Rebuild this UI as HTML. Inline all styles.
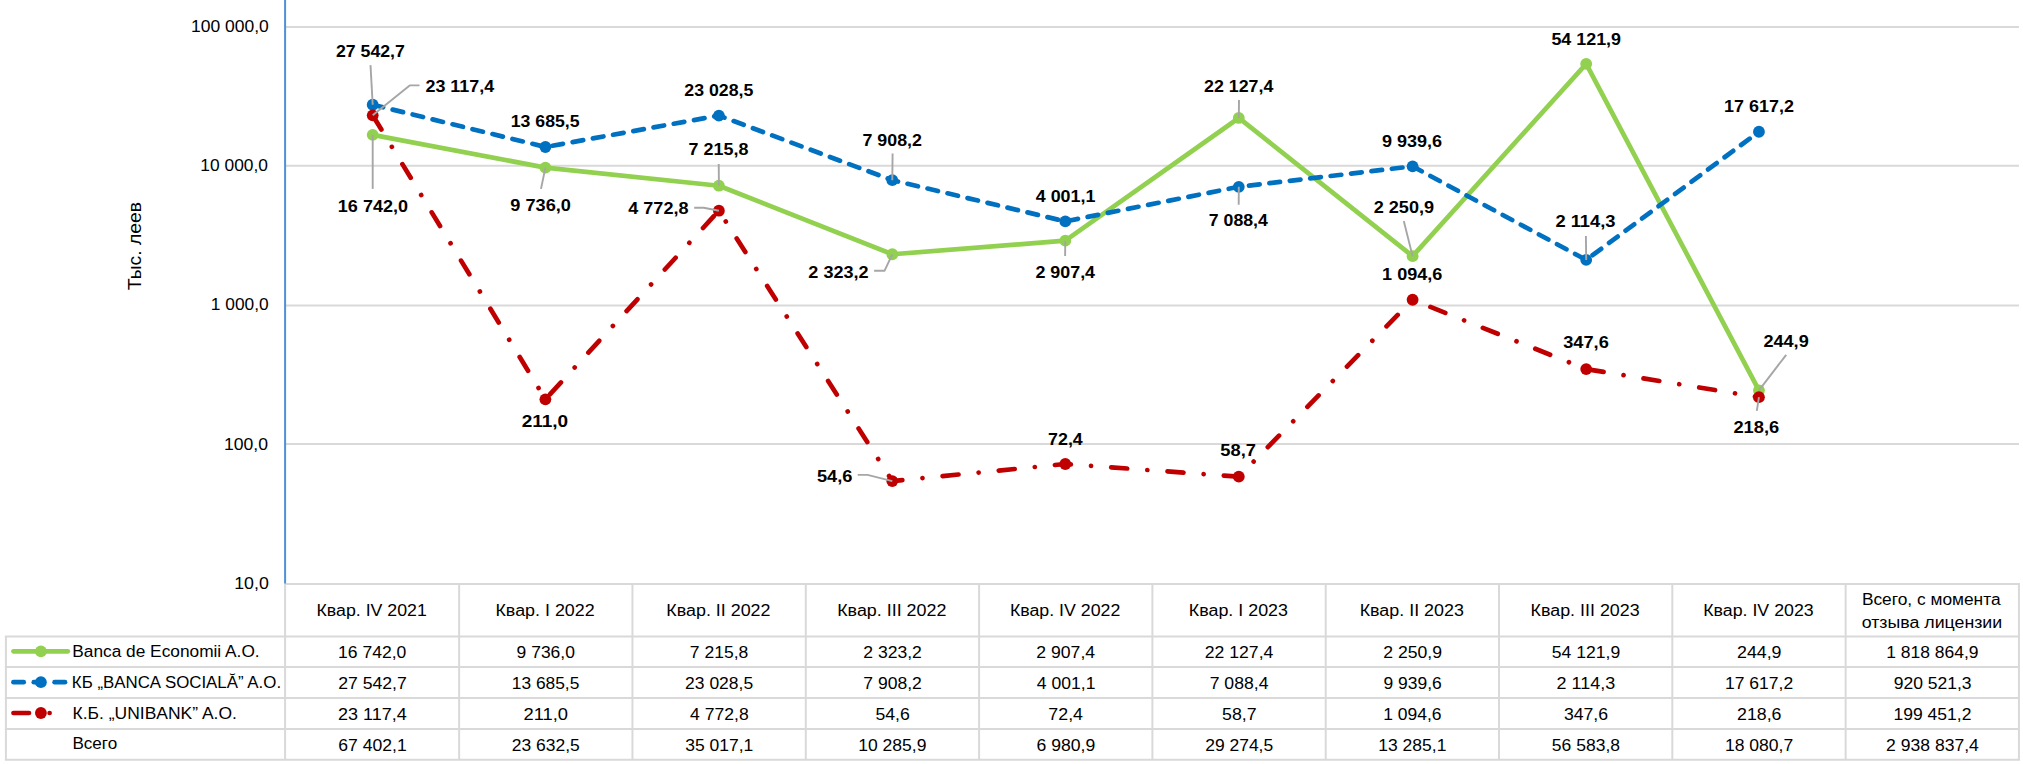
<!DOCTYPE html>
<html lang="ru"><head><meta charset="utf-8"><title>Chart</title>
<style>html,body{margin:0;padding:0;background:#fff}svg{display:block}text{font-family:"Liberation Sans",sans-serif;white-space:pre}</style></head><body>
<svg width="2023" height="764" viewBox="0 0 2023 764">
<rect width="2023" height="764" fill="#fff"/>
<g stroke="#D9D9D9" stroke-width="2" fill="none">
<line x1="285.1" y1="27.00" x2="2018.94" y2="27.00"/>
<line x1="285.1" y1="165.85" x2="2018.94" y2="165.85"/>
<line x1="285.1" y1="305.50" x2="2018.94" y2="305.50"/>
<line x1="285.1" y1="444.10" x2="2018.94" y2="444.10"/>
<line x1="284.1" y1="583.95" x2="2019.94" y2="583.95"/>
<line x1="4.9" y1="636.45" x2="2019.94" y2="636.45"/>
<line x1="4.9" y1="667.1" x2="2019.94" y2="667.1"/>
<line x1="4.9" y1="697.95" x2="2019.94" y2="697.95"/>
<line x1="4.9" y1="728.9" x2="2019.94" y2="728.9"/>
<line x1="4.9" y1="759.85" x2="2019.94" y2="759.85"/>
<line x1="285.10" y1="583.95" x2="285.10" y2="759.85"/>
<line x1="459.15" y1="583.95" x2="459.15" y2="759.85"/>
<line x1="632.46" y1="583.95" x2="632.46" y2="759.85"/>
<line x1="805.77" y1="583.95" x2="805.77" y2="759.85"/>
<line x1="979.08" y1="583.95" x2="979.08" y2="759.85"/>
<line x1="1152.39" y1="583.95" x2="1152.39" y2="759.85"/>
<line x1="1325.70" y1="583.95" x2="1325.70" y2="759.85"/>
<line x1="1499.01" y1="583.95" x2="1499.01" y2="759.85"/>
<line x1="1672.32" y1="583.95" x2="1672.32" y2="759.85"/>
<line x1="1845.63" y1="583.95" x2="1845.63" y2="759.85"/>
<line x1="2018.94" y1="583.95" x2="2018.94" y2="759.85"/>
<line x1="5.9" y1="636.45" x2="5.9" y2="759.85"/>
</g>
<line x1="285.1" y1="0" x2="285.1" y2="583.45" stroke="#4E92D3" stroke-width="2"/>
<text x="191.07" y="31.60" font-size="17.25" textLength="77.69" lengthAdjust="spacingAndGlyphs" fill="#000">100 000,0</text>
<text x="200.38" y="171.40" font-size="17.25" textLength="67.59" lengthAdjust="spacingAndGlyphs" fill="#000">10 000,0</text>
<text x="210.88" y="310.00" font-size="17.25" textLength="57.78" lengthAdjust="spacingAndGlyphs" fill="#000">1 000,0</text>
<text x="223.96" y="450.00" font-size="17.25" textLength="44.01" lengthAdjust="spacingAndGlyphs" fill="#000">100,0</text>
<text x="234.25" y="588.60" font-size="17.25" textLength="34.53" lengthAdjust="spacingAndGlyphs" fill="#000">10,0</text>
<text transform="translate(140.5,289.9) rotate(-90)" x="-0.43" y="0" font-size="18.60" textLength="88.36" lengthAdjust="spacingAndGlyphs" fill="#000">Тыс. леев</text>
<polyline points="372.70,134.83 545.40,167.61 718.90,185.72 892.30,254.25 1065.30,240.69 1238.80,117.96 1412.60,256.16 1586.20,63.87 1758.95,390.30" fill="none" stroke="#92D050" stroke-width="4.7" stroke-linejoin="round" stroke-linecap="round"/>
<polyline points="372.70,104.72 545.40,147.01 718.90,115.55 892.30,180.18 1065.30,221.38 1238.80,186.80 1412.60,166.35 1586.20,259.95 1758.95,131.74" fill="none" stroke="#0070C0" stroke-width="4.7" stroke-linejoin="round" stroke-linecap="round" stroke-dasharray="10.71 9.84"/>
<polyline points="372.70,115.31 545.40,399.31 718.90,210.71 892.30,481.06 1065.30,463.99 1238.80,476.68 1412.60,299.76 1586.20,369.12 1758.95,397.17" fill="none" stroke="#C00000" stroke-width="4.7" stroke-linejoin="round" stroke-linecap="round" stroke-dasharray="16.00 20.22 0.01 20.22" stroke-dashoffset="-0.7"/>
<g fill="#92D050"><circle cx="372.70" cy="134.83" r="5.9"/><circle cx="545.40" cy="167.61" r="5.9"/><circle cx="718.90" cy="185.72" r="5.9"/><circle cx="892.30" cy="254.25" r="5.9"/><circle cx="1065.30" cy="240.69" r="5.9"/><circle cx="1238.80" cy="117.96" r="5.9"/><circle cx="1412.60" cy="256.16" r="5.9"/><circle cx="1586.20" cy="63.87" r="5.9"/><circle cx="1758.95" cy="390.30" r="5.9"/></g>
<g fill="#0070C0"><circle cx="372.70" cy="104.72" r="5.9"/><circle cx="545.40" cy="147.01" r="5.9"/><circle cx="718.90" cy="115.55" r="5.9"/><circle cx="892.30" cy="180.18" r="5.9"/><circle cx="1065.30" cy="221.38" r="5.9"/><circle cx="1238.80" cy="186.80" r="5.9"/><circle cx="1412.60" cy="166.35" r="5.9"/><circle cx="1586.20" cy="259.95" r="5.9"/><circle cx="1758.95" cy="131.74" r="5.9"/></g>
<g fill="#C00000"><circle cx="372.70" cy="115.31" r="5.9"/><circle cx="545.40" cy="399.31" r="5.9"/><circle cx="718.90" cy="210.71" r="5.9"/><circle cx="892.30" cy="481.06" r="5.9"/><circle cx="1065.30" cy="463.99" r="5.9"/><circle cx="1238.80" cy="476.68" r="5.9"/><circle cx="1412.60" cy="299.76" r="5.9"/><circle cx="1586.20" cy="369.12" r="5.9"/><circle cx="1758.95" cy="397.17" r="5.9"/></g>
<g stroke="#A6A6A6" stroke-width="1.9" fill="none" stroke-linejoin="round">
<polyline points="370.50,65.10 372.70,104.72"/>
<polyline points="419.50,85.40 409.70,85.40 372.70,115.31"/>
<polyline points="372.70,134.83 372.70,188.90"/>
<polyline points="545.40,167.61 541.00,188.90"/>
<polyline points="718.75,164.10 718.90,185.72"/>
<polyline points="892.60,153.50 892.30,180.18"/>
<polyline points="694.20,207.80 703.80,207.80 718.90,210.71"/>
<polyline points="874.10,270.70 884.60,270.70 892.30,254.25"/>
<polyline points="857.70,474.90 867.50,474.90 892.30,481.06"/>
<polyline points="1239.00,100.10 1238.80,117.96"/>
<polyline points="1065.30,240.69 1065.10,256.00"/>
<polyline points="1238.80,186.80 1238.70,204.80"/>
<polyline points="1403.80,221.10 1412.60,256.16"/>
<polyline points="1585.90,236.00 1586.20,259.95"/>
<polyline points="1786.20,354.80 1758.95,390.30"/>
<polyline points="1758.95,397.17 1756.80,410.90"/>
</g>
<text x="335.95" y="56.80" font-size="17.00" font-weight="bold" textLength="68.97" lengthAdjust="spacingAndGlyphs" fill="#000">27 542,7</text>
<text x="425.44" y="91.90" font-size="17.00" font-weight="bold" textLength="68.71" lengthAdjust="spacingAndGlyphs" fill="#000">23 117,4</text>
<text x="510.75" y="126.90" font-size="17.00" font-weight="bold" textLength="68.78" lengthAdjust="spacingAndGlyphs" fill="#000">13 685,5</text>
<text x="337.83" y="211.80" font-size="17.00" font-weight="bold" textLength="70.15" lengthAdjust="spacingAndGlyphs" fill="#000">16 742,0</text>
<text x="510.33" y="210.90" font-size="17.00" font-weight="bold" textLength="60.55" lengthAdjust="spacingAndGlyphs" fill="#000">9 736,0</text>
<text x="684.35" y="95.50" font-size="17.00" font-weight="bold" textLength="68.99" lengthAdjust="spacingAndGlyphs" fill="#000">23 028,5</text>
<text x="688.60" y="155.30" font-size="17.00" font-weight="bold" textLength="59.80" lengthAdjust="spacingAndGlyphs" fill="#000">7 215,8</text>
<text x="862.50" y="145.50" font-size="17.00" font-weight="bold" textLength="59.45" lengthAdjust="spacingAndGlyphs" fill="#000">7 908,2</text>
<text x="628.28" y="214.10" font-size="17.00" font-weight="bold" textLength="60.22" lengthAdjust="spacingAndGlyphs" fill="#000">4 772,8</text>
<text x="808.34" y="277.90" font-size="17.00" font-weight="bold" textLength="60.23" lengthAdjust="spacingAndGlyphs" fill="#000">2 323,2</text>
<text x="521.70" y="426.80" font-size="17.00" font-weight="bold" textLength="46.51" lengthAdjust="spacingAndGlyphs" fill="#000">211,0</text>
<text x="816.90" y="482.10" font-size="17.00" font-weight="bold" textLength="35.49" lengthAdjust="spacingAndGlyphs" fill="#000">54,6</text>
<text x="1204.04" y="91.90" font-size="17.00" font-weight="bold" textLength="69.30" lengthAdjust="spacingAndGlyphs" fill="#000">22 127,4</text>
<text x="1381.94" y="146.90" font-size="17.00" font-weight="bold" textLength="60.15" lengthAdjust="spacingAndGlyphs" fill="#000">9 939,6</text>
<text x="1035.78" y="201.50" font-size="17.00" font-weight="bold" textLength="59.66" lengthAdjust="spacingAndGlyphs" fill="#000">4 001,1</text>
<text x="1035.44" y="277.60" font-size="17.00" font-weight="bold" textLength="59.60" lengthAdjust="spacingAndGlyphs" fill="#000">2 907,4</text>
<text x="1208.81" y="226.20" font-size="17.00" font-weight="bold" textLength="59.04" lengthAdjust="spacingAndGlyphs" fill="#000">7 088,4</text>
<text x="1373.73" y="212.80" font-size="17.00" font-weight="bold" textLength="60.37" lengthAdjust="spacingAndGlyphs" fill="#000">2 250,9</text>
<text x="1382.13" y="279.80" font-size="17.00" font-weight="bold" textLength="60.26" lengthAdjust="spacingAndGlyphs" fill="#000">1 094,6</text>
<text x="1048.10" y="444.60" font-size="17.00" font-weight="bold" textLength="34.64" lengthAdjust="spacingAndGlyphs" fill="#000">72,4</text>
<text x="1220.30" y="456.30" font-size="17.00" font-weight="bold" textLength="35.64" lengthAdjust="spacingAndGlyphs" fill="#000">58,7</text>
<text x="1551.41" y="44.70" font-size="17.00" font-weight="bold" textLength="69.59" lengthAdjust="spacingAndGlyphs" fill="#000">54 121,9</text>
<text x="1724.14" y="112.20" font-size="17.00" font-weight="bold" textLength="69.82" lengthAdjust="spacingAndGlyphs" fill="#000">17 617,2</text>
<text x="1555.43" y="227.20" font-size="17.00" font-weight="bold" textLength="60.07" lengthAdjust="spacingAndGlyphs" fill="#000">2 114,3</text>
<text x="1563.25" y="348.20" font-size="17.00" font-weight="bold" textLength="45.55" lengthAdjust="spacingAndGlyphs" fill="#000">347,6</text>
<text x="1763.43" y="346.60" font-size="17.00" font-weight="bold" textLength="45.27" lengthAdjust="spacingAndGlyphs" fill="#000">244,9</text>
<text x="1733.43" y="433.00" font-size="17.00" font-weight="bold" textLength="45.77" lengthAdjust="spacingAndGlyphs" fill="#000">218,6</text>
<text x="316.54" y="615.80" font-size="17.25" textLength="110.32" lengthAdjust="spacingAndGlyphs" fill="#000">Квар. IV 2021</text>
<text x="495.46" y="615.80" font-size="17.25" textLength="99.21" lengthAdjust="spacingAndGlyphs" fill="#000">Квар. I 2022</text>
<text x="666.32" y="615.80" font-size="17.25" textLength="104.20" lengthAdjust="spacingAndGlyphs" fill="#000">Квар. II 2022</text>
<text x="837.18" y="615.80" font-size="17.25" textLength="109.18" lengthAdjust="spacingAndGlyphs" fill="#000">Квар. III 2022</text>
<text x="1009.91" y="615.80" font-size="17.25" textLength="110.41" lengthAdjust="spacingAndGlyphs" fill="#000">Квар. IV 2022</text>
<text x="1188.82" y="615.80" font-size="17.25" textLength="99.16" lengthAdjust="spacingAndGlyphs" fill="#000">Квар. I 2023</text>
<text x="1359.68" y="615.80" font-size="17.25" textLength="104.15" lengthAdjust="spacingAndGlyphs" fill="#000">Квар. II 2023</text>
<text x="1530.54" y="615.80" font-size="17.25" textLength="109.13" lengthAdjust="spacingAndGlyphs" fill="#000">Квар. III 2023</text>
<text x="1703.27" y="615.80" font-size="17.25" textLength="110.37" lengthAdjust="spacingAndGlyphs" fill="#000">Квар. IV 2023</text>
<text x="1861.88" y="604.75" font-size="17.25" textLength="138.71" lengthAdjust="spacingAndGlyphs" fill="#000">Всего, с момента</text>
<text x="1861.75" y="628.00" font-size="17.25" textLength="140.46" lengthAdjust="spacingAndGlyphs" fill="#000">отзыва лицензии</text>
<text x="338.05" y="657.90" font-size="17.25" textLength="68.24" lengthAdjust="spacingAndGlyphs" fill="#000">16 742,0</text>
<text x="516.64" y="657.90" font-size="17.25" textLength="58.29" lengthAdjust="spacingAndGlyphs" fill="#000">9 736,0</text>
<text x="689.88" y="657.90" font-size="17.25" textLength="58.51" lengthAdjust="spacingAndGlyphs" fill="#000">7 215,8</text>
<text x="863.24" y="657.90" font-size="17.25" textLength="58.64" lengthAdjust="spacingAndGlyphs" fill="#000">2 323,2</text>
<text x="1036.33" y="657.90" font-size="17.25" textLength="58.78" lengthAdjust="spacingAndGlyphs" fill="#000">2 907,4</text>
<text x="1204.75" y="657.90" font-size="17.25" textLength="68.64" lengthAdjust="spacingAndGlyphs" fill="#000">22 127,4</text>
<text x="1383.21" y="657.90" font-size="17.25" textLength="58.74" lengthAdjust="spacingAndGlyphs" fill="#000">2 250,9</text>
<text x="1551.81" y="657.90" font-size="17.25" textLength="68.41" lengthAdjust="spacingAndGlyphs" fill="#000">54 121,9</text>
<text x="1737.03" y="657.90" font-size="17.25" textLength="44.50" lengthAdjust="spacingAndGlyphs" fill="#000">244,9</text>
<text x="1886.23" y="657.90" font-size="17.25" textLength="92.33" lengthAdjust="spacingAndGlyphs" fill="#000">1 818 864,9</text>
<text x="338.15" y="688.80" font-size="17.25" textLength="68.70" lengthAdjust="spacingAndGlyphs" fill="#000">27 542,7</text>
<text x="511.74" y="688.80" font-size="17.25" textLength="67.63" lengthAdjust="spacingAndGlyphs" fill="#000">13 685,5</text>
<text x="685.13" y="688.80" font-size="17.25" textLength="68.00" lengthAdjust="spacingAndGlyphs" fill="#000">23 028,5</text>
<text x="863.25" y="688.80" font-size="17.25" textLength="58.59" lengthAdjust="spacingAndGlyphs" fill="#000">7 908,2</text>
<text x="1036.84" y="688.80" font-size="17.25" textLength="58.58" lengthAdjust="spacingAndGlyphs" fill="#000">4 001,1</text>
<text x="1209.69" y="688.80" font-size="17.25" textLength="58.74" lengthAdjust="spacingAndGlyphs" fill="#000">7 088,4</text>
<text x="1383.47" y="688.80" font-size="17.25" textLength="58.22" lengthAdjust="spacingAndGlyphs" fill="#000">9 939,6</text>
<text x="1556.58" y="688.80" font-size="17.25" textLength="58.62" lengthAdjust="spacingAndGlyphs" fill="#000">2 114,3</text>
<text x="1725.01" y="688.80" font-size="17.25" textLength="68.13" lengthAdjust="spacingAndGlyphs" fill="#000">17 617,2</text>
<text x="1893.69" y="688.80" font-size="17.25" textLength="77.86" lengthAdjust="spacingAndGlyphs" fill="#000">920 521,3</text>
<text x="337.98" y="719.75" font-size="17.25" textLength="68.67" lengthAdjust="spacingAndGlyphs" fill="#000">23 117,4</text>
<text x="523.47" y="719.75" font-size="17.25" textLength="44.54" lengthAdjust="spacingAndGlyphs" fill="#000">211,0</text>
<text x="690.10" y="719.75" font-size="17.25" textLength="58.58" lengthAdjust="spacingAndGlyphs" fill="#000">4 772,8</text>
<text x="875.40" y="719.75" font-size="17.25" textLength="34.36" lengthAdjust="spacingAndGlyphs" fill="#000">54,6</text>
<text x="1048.39" y="719.75" font-size="17.25" textLength="34.63" lengthAdjust="spacingAndGlyphs" fill="#000">72,4</text>
<text x="1222.08" y="719.75" font-size="17.25" textLength="34.53" lengthAdjust="spacingAndGlyphs" fill="#000">58,7</text>
<text x="1383.17" y="719.75" font-size="17.25" textLength="58.30" lengthAdjust="spacingAndGlyphs" fill="#000">1 094,6</text>
<text x="1563.91" y="719.75" font-size="17.25" textLength="44.17" lengthAdjust="spacingAndGlyphs" fill="#000">347,6</text>
<text x="1737.03" y="719.75" font-size="17.25" textLength="44.43" lengthAdjust="spacingAndGlyphs" fill="#000">218,6</text>
<text x="1893.43" y="719.75" font-size="17.25" textLength="77.98" lengthAdjust="spacingAndGlyphs" fill="#000">199 451,2</text>
<text x="338.28" y="750.70" font-size="17.25" textLength="68.41" lengthAdjust="spacingAndGlyphs" fill="#000">67 402,1</text>
<text x="511.78" y="750.70" font-size="17.25" textLength="68.00" lengthAdjust="spacingAndGlyphs" fill="#000">23 632,5</text>
<text x="685.22" y="750.70" font-size="17.25" textLength="68.15" lengthAdjust="spacingAndGlyphs" fill="#000">35 017,1</text>
<text x="858.18" y="750.70" font-size="17.25" textLength="68.24" lengthAdjust="spacingAndGlyphs" fill="#000">10 285,9</text>
<text x="1036.51" y="750.70" font-size="17.25" textLength="58.74" lengthAdjust="spacingAndGlyphs" fill="#000">6 980,9</text>
<text x="1205.18" y="750.70" font-size="17.25" textLength="68.00" lengthAdjust="spacingAndGlyphs" fill="#000">29 274,5</text>
<text x="1378.34" y="750.70" font-size="17.25" textLength="68.04" lengthAdjust="spacingAndGlyphs" fill="#000">13 285,1</text>
<text x="1551.87" y="750.70" font-size="17.25" textLength="68.22" lengthAdjust="spacingAndGlyphs" fill="#000">56 583,8</text>
<text x="1724.91" y="750.70" font-size="17.25" textLength="68.33" lengthAdjust="spacingAndGlyphs" fill="#000">18 080,7</text>
<text x="1886.09" y="750.70" font-size="17.25" textLength="92.74" lengthAdjust="spacingAndGlyphs" fill="#000">2 938 837,4</text>
<text x="72.28" y="656.50" font-size="17.25" textLength="187.38" lengthAdjust="spacingAndGlyphs" fill="#000">Banca de Economii A.O.</text>
<text x="71.82" y="687.60" font-size="17.25" textLength="209.31" lengthAdjust="spacingAndGlyphs" fill="#000">КБ „BANCA SOCIALĂ” A.O.</text>
<text x="72.57" y="718.60" font-size="17.25" textLength="164.32" lengthAdjust="spacingAndGlyphs" fill="#000">К.Б. „UNIBANK” A.O.</text>
<text x="72.40" y="749.30" font-size="17.25" textLength="44.80" lengthAdjust="spacingAndGlyphs" fill="#000">Всего</text>
<line x1="13.45" y1="651.3" x2="67.8" y2="651.3" stroke="#92D050" stroke-width="4.7" stroke-linecap="round"/><circle cx="40.9" cy="651.3" r="5.9" fill="#92D050"/>
<g stroke="#0070C0" stroke-width="4.7" stroke-linecap="round"><line x1="13.45" y1="682.2" x2="23.7" y2="682.2"/><line x1="33.8" y1="682.2" x2="40" y2="682.2"/><line x1="54.6" y1="682.2" x2="65.0" y2="682.2"/></g><circle cx="40.9" cy="682.2" r="5.9" fill="#0070C0"/>
<g stroke="#C00000" stroke-width="4.7" stroke-linecap="round"><line x1="13.45" y1="713.0" x2="29.0" y2="713.0"/><line x1="49.6" y1="713.0" x2="49.61" y2="713.0"/></g><circle cx="40.9" cy="713.0" r="5.9" fill="#C00000"/>
</svg></body></html>
